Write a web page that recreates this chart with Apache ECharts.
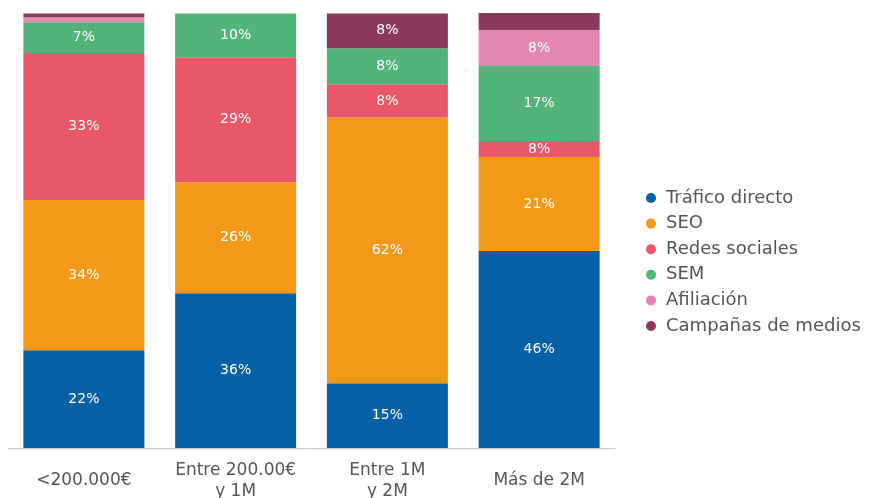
<!DOCTYPE html>
<html>
<head>
<meta charset="utf-8">
<script src="https://cdn.jsdelivr.net/npm/echarts@6/dist/echarts.min.js"></script>
<style>
    html, body { margin: 0; padding: 0; background: #fff; }
    #chart { width: 870px; height: 498px; }
</style>
</head>
<body>
<div id="chart"></div>
<script>
// categories
var categories = ['<200.000€', 'Entre 200.00€\ny 1M', 'Entre 1M\ny 2M', 'Más de 2M'];

// bar heights (share of each bar)
var trafico    = [22.5, 35.6, 14.9, 45.3];
var seo        = [34.5, 25.5, 61.1, 21.6];
var redes      = [33.8, 28.7, 7.6, 3.7];
var sem        = [7.1, 10.1, 8.3, 17.2];
var afiliacion = [1.1, 0, 0, 8.3];
var campanas   = [0.9, 0, 8.0, 3.9];

// printed labels inside the bars
var traficoLabels    = ['22%', '36%', '15%', '46%'];
var seoLabels        = ['34%', '26%', '62%', '21%'];
var redesLabels      = ['33%', '29%', '8%', '8%'];
var semLabels        = ['7%', '10%', '8%', '17%'];
var afiliacionLabels = ['', '', '', '8%'];
var campanasLabels   = ['', '', '8%', ''];

var fontFamily = '"DejaVu Sans", sans-serif';

function makeSeries(name, data, labels, color) {
    return {
        name: name,
        type: 'bar',
        stack: 'total',
        barWidth: 121,
        data: data,
        itemStyle: { color: color },
        label: {
            show: true,
            position: 'inside',
            color: '#fff',
            fontSize: 14,
            fontFamily: fontFamily,
            formatter: function (p) { return labels[p.dataIndex]; }
        },
        emphasis: { disabled: true }
    };
}

var myChart = echarts.init(document.getElementById('chart'));
var option = {
    animation: false,
    grid: { left: 8, right: 255, top: 13, bottom: 50, containLabel: false, outerBoundsMode: 'none' },
    legend: {
        orient: 'vertical',
        left: 641,
        top: 183,
        icon: 'circle',
        itemWidth: 10,
        itemHeight: 10,
        itemGap: 5.6,
        textStyle: { fontSize: 18, lineHeight: 20, color: '#555', fontFamily: fontFamily, padding: [0, 0, 0, 5] },
        data: ['Tráfico directo', 'SEO', 'Redes sociales', 'SEM', 'Afiliación', 'Campañas de medios']
    },
    xAxis: {
        type: 'category',
        data: categories,
        axisLine: { lineStyle: { color: '#c8c8c8', width: 1 } },
        axisTick: { show: false },
        axisLabel: {
            interval: 0,
            margin: 33,
            verticalAlign: 'middle',
            color: '#555',
            fontSize: 17,
            lineHeight: 21,
            fontFamily: fontFamily
        }
    },
    yAxis: {
        type: 'value',
        min: 0,
        max: 100,
        show: false
    },
    series: [
        makeSeries('Tráfico directo', trafico, traficoLabels, '#0560a6'),
        makeSeries('SEO', seo, seoLabels, '#f39817'),
        makeSeries('Redes sociales', redes, redesLabels, '#ea5768'),
        makeSeries('SEM', sem, semLabels, '#52b478'),
        makeSeries('Afiliación', afiliacion, afiliacionLabels, '#e287af'),
        makeSeries('Campañas de medios', campanas, campanasLabels, '#8b3a5b')
    ]
};
myChart.setOption(option);
</script>
</body>
</html>
